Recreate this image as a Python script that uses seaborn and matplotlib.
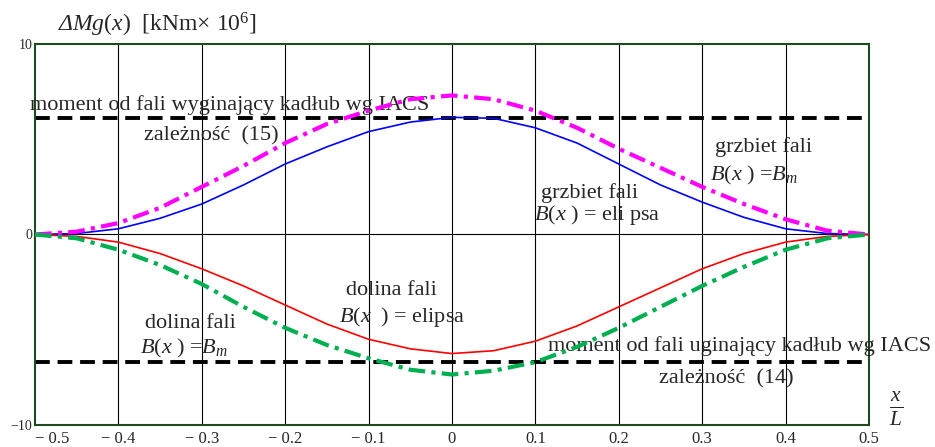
import numpy as np
import pandas as pd
import seaborn as sns
import matplotlib.pyplot as plt

# dane (x/L, moment w kNm x 10^6)
x_L = [-0.5, -0.45, -0.4, -0.35, -0.3, -0.25, -0.2, -0.15, -0.1, -0.05, 0.0,
       0.05, 0.1, 0.15, 0.2, 0.25, 0.3, 0.35, 0.4, 0.45, 0.5]
grzbiet_elipsa = [0, 0.05, 0.3, 0.85, 1.6, 2.6, 3.7, 4.6, 5.4, 5.9, 6.15,
                  6.1, 5.6, 4.8, 3.7, 2.6, 1.7, 0.9, 0.3, 0.05, 0]
grzbiet_Bm = [0, 0.15, 0.6, 1.4, 2.5, 3.6, 4.8, 5.8, 6.5, 7.1, 7.3,
              7.1, 6.5, 5.6, 4.5, 3.5, 2.5, 1.6, 0.8, 0.2, 0]
dolina_elipsa = [0, -0.1, -0.4, -1.0, -1.8, -2.7, -3.7, -4.7, -5.5, -6.0, -6.25,
                 -6.1, -5.6, -4.8, -3.8, -2.8, -1.8, -1.0, -0.4, -0.1, 0]
dolina_Bm = [0, -0.2, -0.8, -1.6, -2.6, -3.8, -4.9, -5.8, -6.5, -7.1, -7.35,
             -7.15, -6.7, -5.9, -4.9, -3.8, -2.7, -1.7, -0.8, -0.2, 0]
iacs_levels = [6.1, -6.7]

xticks = [-0.5, -0.4, -0.3, -0.2, -0.1, 0.0, 0.1, 0.2, 0.3, 0.4, 0.5]
xtick_labels = ["\u2212 0.5", "\u2212 0.4", "\u2212 0.3", "\u2212 0.2", "\u2212 0.1", "0",
                "0.1", "0.2", "0.3", "0.4", "0.5"]
yticks = [-10, 0, 10]
ytick_labels = ["\u221210", "0", "10"]

df = pd.DataFrame({"x": x_L, "ge": grzbiet_elipsa, "gb": grzbiet_Bm,
                   "de": dolina_elipsa, "db": dolina_Bm})

sns.set_style("white")
plt.rcParams["font.family"] = ["Liberation Serif", "DejaVu Serif"]
plt.rcParams["mathtext.fontset"] = "custom"
plt.rcParams["mathtext.rm"] = "Liberation Serif"
plt.rcParams["mathtext.it"] = "Liberation Serif:italic"

fig = plt.figure(figsize=(9.35, 4.47), dpi=100)
ax = fig.add_axes([0.0374, 0.0492, 0.8920, 0.8524])

# siatka
for xv in xticks[1:-1]:
    ax.axvline(xv, color="black", lw=0.8, zorder=0)
ax.axhline(0, color="black", lw=0.8, zorder=0)

for lvl in iacs_levels:
    ax.hlines(lvl, -0.5, 0.5, colors="black", linestyles=(0, (3.8, 2)), lw=2.8, zorder=2)

sns.lineplot(data=df, x="x", y="ge", ax=ax, color="#0000ff", lw=1.2, zorder=3)
sns.lineplot(data=df, x="x", y="de", ax=ax, color="#ff0000", lw=1.2, zorder=3)
sns.lineplot(data=df, x="x", y="gb", ax=ax, color="#ff00ff", lw=3,
             linestyle=(0, (4, 1.5, 1, 1.5)), zorder=4)
sns.lineplot(data=df, x="x", y="db", ax=ax, color="#00b050", lw=3,
             linestyle=(0, (4, 1.5, 1, 1.5)), zorder=4)

ax.set_xlim(-0.5, 0.5)
ax.set_ylim(-10, 10)
ax.set_xticks(xticks)
ax.set_xticklabels(xtick_labels, fontsize=12)
ax.get_xticklabels()[0].set_horizontalalignment("left")
ax.set_yticks(yticks)
ax.set_yticklabels(ytick_labels, fontsize=10)
ax.tick_params(axis="both", length=0, pad=4)
ax.tick_params(axis="y", pad=2)
ax.set_xlabel("")
ax.set_ylabel("")
for s in ax.spines.values():
    s.set_color("#1f4a1f")
    s.set_linewidth(1.5)

# tytuł osi y: Δ kursywą osobno (mathtext stawia greckie wielkie litery prosto)
fig.text(0.063, 0.945, "Δ", fontsize=17, style="italic", ha="left", va="center")
fig.text(0.0765, 0.945, r"$\mathit{Mg}(\mathit{x})$  [kNm$\times$ 10$^6$]",
         fontsize=17, ha="left", va="center")
fig.text(0.958, 0.085, r"$\frac{\mathit{x}}{\mathit{L}}$", fontsize=22, ha="center", va="center")

fs = 16
ax.text(-0.267, 6.8, "moment od fali wyginający kadłub wg IACS", fontsize=fs, ha="center", va="center",
        clip_on=False)
ax.text(-0.288, 5.2, "zależność  (15)", fontsize=fs, ha="center", va="center")
ax.text(0.373, 4.57, "grzbiet fali", fontsize=fs, ha="center", va="center")
ax.text(0.362, 3.1, r"$\mathit{B}(\mathit{x}\ )$ =$\mathit{B}_{\mathit{m}}$", fontsize=fs, ha="center", va="center")
ax.text(0.165, 2.2, "grzbiet fali", fontsize=fs, ha="center", va="center")
ax.text(0.174, 1.0, r"$\mathit{B}(\mathit{x}\ )$ = eli psa", fontsize=fs, ha="center", va="center")
ax.text(-0.073, -2.94, "dolina fali", fontsize=fs, ha="center", va="center")
ax.text(-0.06, -4.35, r"$\mathit{B}(\mathit{x}\ \ )$ = elipsa", fontsize=fs, ha="center", va="center")
ax.text(-0.313, -4.67, "dolina fali", fontsize=fs, ha="center", va="center")
ax.text(-0.321, -6.0, r"$\mathit{B}(\mathit{x}\ )$ =$\mathit{B}_{\mathit{m}}$", fontsize=fs, ha="center", va="center")
ax.text(0.345, -5.83, "moment od fali uginający kadłub wg IACS", fontsize=fs, ha="center", va="center",
        clip_on=False)
ax.text(0.329, -7.6, "zależność  (14)", fontsize=fs, ha="center", va="center")

fig.savefig("out.png", dpi=100)
